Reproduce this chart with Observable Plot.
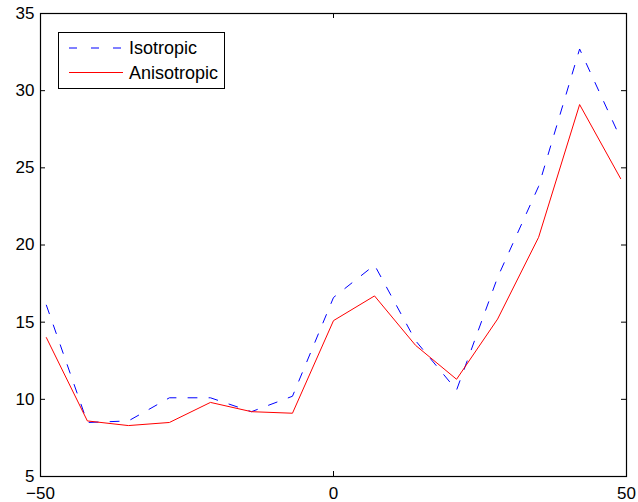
<!DOCTYPE html>
<html>
<head>
<meta charset="utf-8">
<script src="https://cdn.jsdelivr.net/npm/d3@7"></script>
<script src="https://cdn.jsdelivr.net/npm/@observablehq/plot@0.6"></script>
<style>
  html, body { margin: 0; padding: 0; background: #fff; }
  #wrap { position: relative; width: 638px; height: 502px; font-family: "Liberation Sans", Arial, sans-serif; }
  #legend { position: absolute; left: 58px; top: 32px; }
</style>
</head>
<body>
<div id="wrap"></div>
<script>
// ---- data ----
const xValues = [-49, -42, -35, -28, -21, -14, -7, 0, 7, 14, 21, 28, 35, 42, 49];
const isotropic = [16.1, 8.5, 8.6, 10.1, 10.1, 9.2, 10.2, 16.6, 18.7, 13.8, 10.6, 17.9, 23.8, 32.7, 26.9];
const anisotropic = [14.0, 8.6, 8.3, 8.5, 9.8, 9.2, 9.1, 15.1, 16.7, 13.5, 11.3, 15.2, 20.5, 29.1, 24.3];
const seriesNames = ["Isotropic", "Anisotropic"];
const xTicks = [-50, 0, 50];
const yTicks = [5, 10, 15, 20, 25, 30, 35];

const isoData = xValues.map((x, i) => ({x, y: isotropic[i]}));
const anisoData = xValues.map((x, i) => ({x, y: anisotropic[i]}));

const W = 638, H = 502, mL = 40, mR = 12, mT = 13, mB = 26;
const innerW = W - mL - mR, innerH = H - mT - mB;
const tickLen = 5;
const dash = "9,12";

const chart = Plot.plot({
  width: W, height: H,
  marginLeft: mL, marginRight: mR, marginTop: mT, marginBottom: mB,
  style: {fontSize: "17px", fontFamily: "'Liberation Sans', Arial, sans-serif", color: "black", background: "white"},
  x: {domain: [-50, 50]},
  y: {domain: [5, 35]},
  marks: [
    Plot.line(isoData, {x: "x", y: "y", stroke: "#0000ff", strokeWidth: 1, strokeDasharray: dash}),
    Plot.line(anisoData, {x: "x", y: "y", stroke: "#ff0000", strokeWidth: 1}),
    Plot.tickX(xTicks, {x: d => d, stroke: "black", insetTop: innerH - tickLen}),
    Plot.tickX(xTicks, {x: d => d, stroke: "black", insetBottom: innerH - tickLen}),
    Plot.tickY(yTicks, {y: d => d, stroke: "black", insetRight: innerW - tickLen}),
    Plot.tickY(yTicks, {y: d => d, stroke: "black", insetLeft: innerW - tickLen}),
    Plot.frame({stroke: "black", strokeWidth: 1.2}),
    Plot.axisX({ticks: xTicks, tickSize: 0, tickPadding: 10, label: null, tickFormat: d => d < 0 ? "\u2212" + Math.abs(d) : String(d)}),
    Plot.axisY({ticks: yTicks, tickSize: 0, tickPadding: 6, label: null})
  ]
});

const wrap = document.getElementById("wrap");
wrap.appendChild(chart);

// ---- legend (inside the axes, top-left) ----
const legW = 166, legH = 56;
const leg = d3.create("svg")
  .attr("id", "legend")
  .attr("width", legW + 1).attr("height", legH + 1)
  .style("font-family", "'Liberation Sans', Arial, sans-serif")
  .style("font-size", "18px");
leg.append("rect").attr("x", 0.5).attr("y", 0.5).attr("width", legW).attr("height", legH)
  .attr("fill", "white").attr("stroke", "black").attr("stroke-width", 1);
const styles = [
  {stroke: "#0000ff", dash: "8,14"},
  {stroke: "#ff0000", dash: null}
];
seriesNames.forEach((name, i) => {
  const cy = 16 + i * 24.5;
  const ln = leg.append("line").attr("x1", 11).attr("x2", 65).attr("y1", cy).attr("y2", cy)
    .attr("stroke", styles[i].stroke).attr("stroke-width", 1);
  if (styles[i].dash) ln.attr("stroke-dasharray", styles[i].dash);
  leg.append("text").attr("x", 71).attr("y", cy).attr("dy", "0.35em").attr("fill", "black").text(name);
});
wrap.appendChild(leg.node());
</script>
</body>
</html>
